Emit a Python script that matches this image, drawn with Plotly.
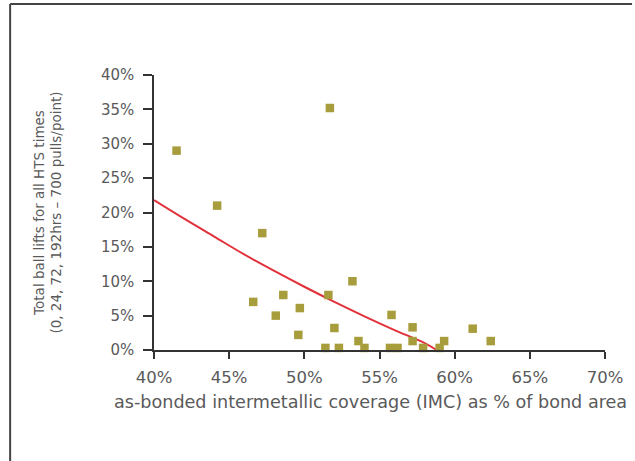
import plotly.graph_objects as go

# Scatter data (IMC coverage %, ball lifts %)
imc = [41.5, 44.2, 47.2, 46.6, 48.1, 48.6, 49.7, 49.6, 51.7, 51.6, 52.0, 51.4, 52.3,
       53.2, 53.6, 54.0, 55.8, 55.7, 56.2, 57.2, 57.2, 57.9, 59.0, 59.3, 61.2, 62.4]
lifts = [29.0, 21.0, 17.0, 7.0, 5.0, 8.0, 6.1, 2.2, 35.2, 8.0, 3.2, 0.3, 0.3,
         10.0, 1.3, 0.3, 5.1, 0.3, 0.3, 3.3, 1.3, 0.3, 0.3, 1.3, 3.1, 1.3]

# Trend line
trend_x = [40, 42, 44, 46, 48, 50, 52, 54, 56, 58, 58.8]
trend_y = [21.8, 19.1, 16.5, 13.9, 11.5, 9.2, 7.0, 4.9, 2.9, 1.0, 0.0]

x_ticks = [40, 45, 50, 55, 60, 65, 70]
y_ticks = [0, 5, 10, 15, 20, 25, 30, 35, 40]

x_title = "as-bonded intermetallic coverage (IMC) as % of bond area"
y_title = "Total ball lifts for all HTS times<br>(0, 24, 72, 192hrs – 700 pulls/point)"

FONT = "DejaVu Sans"
TXT = "#5a5a5a"

fig = go.Figure()
fig.add_trace(go.Scatter(
    x=trend_x, y=trend_y, mode="lines", line=dict(color="#e2313b", width=2, shape="spline"),
    hoverinfo="skip", showlegend=False, cliponaxis=False))
fig.add_trace(go.Scatter(
    x=imc, y=lifts, mode="markers",
    marker=dict(symbol="square", size=8.5, color="#a89d3c", line=dict(width=0)),
    showlegend=False, cliponaxis=False))

fig.update_layout(
    width=635, height=461,
    margin=dict(l=154, r=27, t=75, b=111),
    paper_bgcolor="white", plot_bgcolor="white",
    font=dict(family=FONT, color=TXT),
    xaxis=dict(range=[40, 70], tickvals=x_ticks, ticktext=[f"{v}%" for v in x_ticks],
               showgrid=False, zeroline=False, showline=True, linecolor="#333", linewidth=1.5,
               ticks="outside", ticklen=7, tickcolor="#333", tickwidth=1.5,
               ticklabelstandoff=4,
               tickfont=dict(size=16.5, family=FONT, color=TXT)),
    yaxis=dict(range=[0, 40], tickvals=y_ticks, ticktext=[f"{v}%" for v in y_ticks],
               showgrid=False, zeroline=False, showline=True, linecolor="#333", linewidth=1.5,
               ticks="outside", ticklen=9, tickcolor="#333", tickwidth=1.5,
               ticklabelstandoff=6,
               tickfont=dict(size=15, family=FONT, color=TXT),
               title=dict(text=y_title, font=dict(size=13.5, family=FONT, color=TXT), standoff=36)),
    annotations=[
        dict(text=x_title, xref="paper", yref="paper", x=0.48, y=-0.19,
             xanchor="center", yanchor="middle", showarrow=False,
             font=dict(size=17.6, family=FONT, color=TXT)),
    ],
    shapes=[
        dict(type="line", xref="paper", yref="paper", x0=-0.319, x1=1.06, y0=1.258, y1=1.258,
             line=dict(color="#444", width=2)),
        dict(type="line", xref="paper", yref="paper", x0=-0.319, x1=-0.319, y0=1.258, y1=-0.45,
             line=dict(color="#444", width=2)),
    ],
)

fig.write_html("out.html")
